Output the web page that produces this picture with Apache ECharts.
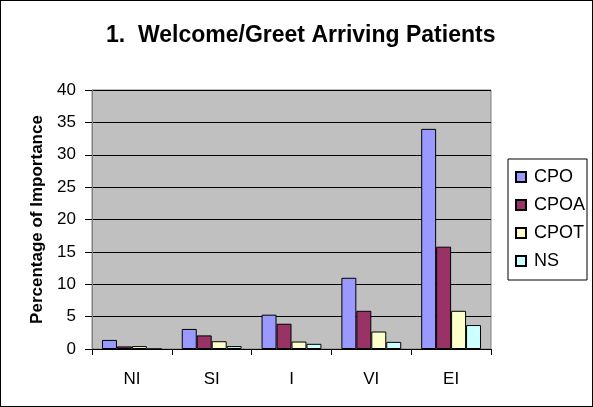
<!DOCTYPE html>
<html>
<head>
<meta charset="utf-8">
<script src="https://cdn.jsdelivr.net/npm/echarts@6/dist/echarts.min.js"></script>
<style>
  html, body { margin: 0; padding: 0; background: #fff; }
  #chart { width: 591px; height: 405px; border: 1px solid #000; }
</style>
</head>
<body>
<div id="chart"></div>
<script>
const categories = ['NI', 'SI', 'I', 'VI', 'EI'];
const seriesNames = ['CPO', 'CPOA', 'CPOT', 'NS'];
const cpo = [1.4, 3.1, 5.3, 11.0, 34.0];
const cpoa = [0.4, 2.1, 3.9, 5.9, 15.8];
const cpot = [0.45, 1.2, 1.15, 2.7, 5.9];
const ns = [0, 0.45, 0.8, 1.1, 3.7];
const colors = ['#9999FF', '#993366', '#FFFFCC', '#CCFFFF'];

const chart = echarts.init(document.getElementById('chart'));
const font = 'Arial, "Liberation Sans", sans-serif';

const allData = [cpo, cpoa, cpot, ns];

chart.setOption({
  animation: false,
  title: {
    text: '1.  Welcome/Greet Arriving Patients',
    left: 100,
    top: 18,
    textStyle: { fontFamily: font, fontSize: 23, fontWeight: 'bold', color: '#000' }
  },
  legend: {
    orient: 'vertical',
    left: 507,
    top: 158,
    itemWidth: 10,
    itemHeight: 10,
    itemGap: 10,
    padding: [9, 2, 10, 7],
    borderColor: '#000',
    borderWidth: 1,
    icon: 'rect',
    textStyle: { fontFamily: font, fontSize: 18, color: '#000', padding: [0, 0, 0, 3] },
    data: seriesNames
  },
  grid: {
    left: 91,
    right: 101,
    top: 89,
    bottom: 57,
    show: true,
    backgroundColor: '#C0C0C0',
    borderColor: '#808080',
    borderWidth: 1
  },
  xAxis: {
    type: 'category',
    data: categories,
    axisLine: { lineStyle: { color: '#000' } },
    axisTick: { show: true, length: 6, alignWithLabel: false, lineStyle: { color: '#000' } },
    axisLabel: { margin: 22, fontFamily: font, fontSize: 17, color: '#000' }
  },
  yAxis: {
    type: 'value',
    min: 0,
    max: 40,
    interval: 5,
    name: 'Percentage of Importance',
    nameLocation: 'middle',
    nameGap: 35,
    nameTextStyle: { fontFamily: font, fontSize: 17, fontWeight: 'bold', color: '#000' },
    axisLine: { show: true, lineStyle: { color: '#808080' } },
    axisTick: { show: true, length: 7, lineStyle: { color: '#000' } },
    axisLabel: { margin: 16, fontFamily: font, fontSize: 17, color: '#000' },
    splitLine: { show: true, lineStyle: { color: '#000', width: 1 } }
  },
  series: seriesNames.map((name, i) => ({
    name: name,
    type: 'bar',
    data: allData[i],
    barGap: '0%',
    barCategoryGap: '25%',
    itemStyle: { color: colors[i], borderColor: '#000', borderWidth: 1 }
  }))
});
</script>
</body>
</html>
